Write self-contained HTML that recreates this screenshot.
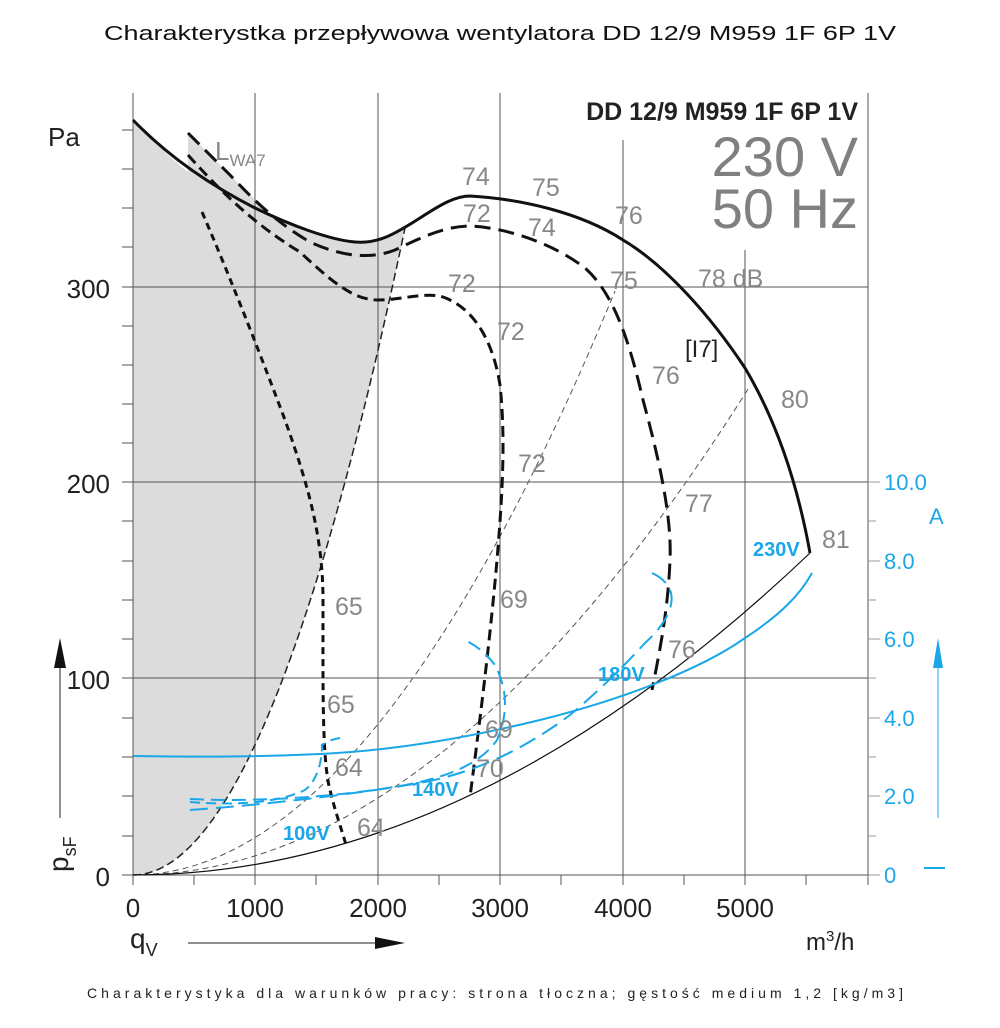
<!DOCTYPE html>
<html><head><meta charset="utf-8"><style>
html,body{margin:0;padding:0;background:#fff}
svg{display:block}
text{font-family:"Liberation Sans",sans-serif}
</style></head><body>
<svg width="1000" height="1028" viewBox="0 0 1000 1028" xmlns="http://www.w3.org/2000/svg">
<rect width="1000" height="1028" fill="#fff"/>
<text x="500" y="40" font-size="20" text-anchor="middle" fill="#111" textLength="792" lengthAdjust="spacingAndGlyphs">Charakterystka przepływowa wentylatora DD 12/9 M959 1F 6P 1V</text>

<path d="M133,875 L133,120 C150,138 170,158 188,172 L188,133 L230,175 L272,216 C300,228 330,240 350,241 C365,242 378,240 390,236 L405,228 Q269,875 133,875 Z" fill="#dcdcdc"/>

<g stroke="#555" stroke-width="1" fill="none">
<line x1="255" y1="93" x2="255" y2="875"/>
<line x1="378" y1="93" x2="378" y2="875"/>
<line x1="500" y1="93" x2="500" y2="875"/>
<line x1="623" y1="140" x2="623" y2="875"/>
<line x1="745" y1="250" x2="745" y2="875"/>
<line x1="868" y1="93" x2="868" y2="885"/>
<line x1="122" y1="287" x2="868" y2="287"/>
<line x1="122" y1="482" x2="868" y2="482"/>
<line x1="122" y1="678" x2="868" y2="678"/>
<line x1="133" y1="93" x2="133" y2="885"/>
<line x1="122" y1="875" x2="868" y2="875"/>
</g>
<g stroke="#555" stroke-width="1">
<line x1="122" y1="130" x2="133" y2="130"/><line x1="122" y1="169" x2="133" y2="169"/><line x1="122" y1="208" x2="133" y2="208"/><line x1="122" y1="247" x2="133" y2="247"/>
<line x1="122" y1="326" x2="133" y2="326"/><line x1="122" y1="365" x2="133" y2="365"/><line x1="122" y1="404" x2="133" y2="404"/><line x1="122" y1="443" x2="133" y2="443"/>
<line x1="122" y1="521" x2="133" y2="521"/><line x1="122" y1="561" x2="133" y2="561"/><line x1="122" y1="600" x2="133" y2="600"/><line x1="122" y1="639" x2="133" y2="639"/>
<line x1="122" y1="718" x2="133" y2="718"/><line x1="122" y1="757" x2="133" y2="757"/><line x1="122" y1="796" x2="133" y2="796"/><line x1="122" y1="836" x2="133" y2="836"/>
<line x1="194" y1="875" x2="194" y2="885"/><line x1="316" y1="875" x2="316" y2="885"/><line x1="439" y1="875" x2="439" y2="885"/><line x1="561" y1="875" x2="561" y2="885"/><line x1="684" y1="875" x2="684" y2="885"/><line x1="806" y1="875" x2="806" y2="885"/>
<line x1="255" y1="875" x2="255" y2="885"/><line x1="378" y1="875" x2="378" y2="885"/><line x1="500" y1="875" x2="500" y2="885"/><line x1="623" y1="875" x2="623" y2="885"/><line x1="745" y1="875" x2="745" y2="885"/>
</g>
<g stroke="#999" stroke-width="1">
<line x1="868" y1="875" x2="880" y2="875"/><line x1="868" y1="836" x2="876" y2="836"/><line x1="868" y1="796" x2="880" y2="796"/><line x1="868" y1="757" x2="876" y2="757"/>
<line x1="868" y1="718" x2="880" y2="718"/><line x1="868" y1="678" x2="876" y2="678"/><line x1="868" y1="639" x2="880" y2="639"/><line x1="868" y1="600" x2="876" y2="600"/>
<line x1="868" y1="561" x2="880" y2="561"/><line x1="868" y1="521" x2="876" y2="521"/><line x1="868" y1="482" x2="880" y2="482"/>
</g>

<g fill="none" stroke="#555" stroke-width="1" stroke-dasharray="6,4">
<path d="M133,875 Q374,875 615,291"/>
<path d="M133,875 Q441.5,875 750,386"/>
</g>
<path d="M133,875 Q269,875 405,228" fill="none" stroke="#222" stroke-width="1.5" stroke-dasharray="8,4"/>
<path d="M133,875 Q471.5,875 810,553" fill="none" stroke="#111" stroke-width="1.2"/>

<path d="M133,120 C160,148 200,180 255,208 C290,225 330,240 355,242 C378,244 395,234 420,218 C440,205 455,196 470,196 C520,199 580,212 623,240 C665,265 710,315 745,368 C770,410 795,470 810,553" fill="none" stroke="#111" stroke-width="3"/>

<path d="M188,133 L230,175 C250,196 275,222 310,242 C340,256 370,260 395,250 C420,238 445,226 470,226 C510,228 555,245 585,268 C612,292 628,335 643,400 C658,455 672,515 670,560 C668,610 660,650 652,690" fill="none" stroke="#111" stroke-width="3" stroke-dasharray="16,8"/>
<path d="M188,155 C215,185 250,222 300,252 C335,285 355,300 378,300 C400,300 420,293 440,296 C470,305 492,335 500,385 C506,440 502,500 497,560 C490,640 480,720 470,797" fill="none" stroke="#111" stroke-width="3" stroke-dasharray="11,6"/>
<path d="M202,212 C225,265 255,340 285,420 C310,490 323,540 323,600 C323,690 322,760 330,790 C336,815 342,830 346,845" fill="none" stroke="#111" stroke-width="3" stroke-dasharray="7,5"/>

<g fill="none" stroke="#1aa7e8" stroke-width="2">
<path d="M133,756 C200,757 255,757 320,754 C400,750 470,737 540,720 C620,700 700,670 745,638 C780,615 800,595 812,573"/>
<path d="M190,810 C260,805 350,795 420,783 C480,772 530,745 570,715 C600,690 625,665 645,643 C665,625 676,605 670,590 C665,580 660,577 652,573" stroke-dasharray="18,8"/>
<path d="M190,799 C250,802 330,798 400,786 C445,778 480,765 497,740 C508,715 508,690 495,665 C485,652 475,645 465,640" stroke-dasharray="14,7"/>
<path d="M190,802 C240,806 280,802 305,790 C318,780 322,760 322,745 C328,741 333,739 340,738" stroke-dasharray="10,6"/>
</g>

<g font-size="25" fill="#888">
<text x="462" y="185">74</text><text x="532" y="196">75</text><text x="463" y="222">72</text><text x="528" y="236">74</text>
<text x="615" y="224">76</text><text x="448" y="292">72</text><text x="610" y="289">75</text><text x="698" y="287">78 dB</text>
<text x="497" y="340">72</text><text x="652" y="384">76</text><text x="781" y="408">80</text><text x="518" y="472">72</text>
<text x="685" y="512">77</text><text x="822" y="548">81</text><text x="335" y="615">65</text><text x="500" y="608">69</text>
<text x="668" y="658">76</text><text x="327" y="713">65</text><text x="485" y="738">69</text><text x="335" y="776">64</text>
<text x="476" y="777">70</text><text x="357" y="836">64</text>
<text x="215" y="160" font-size="26">L<tspan font-size="17" dy="6">WA7</tspan></text>
</g>
<text x="685" y="357" font-size="24" fill="#222">[I7]</text>
<text x="858" y="120" font-size="25" font-weight="bold" fill="#222" text-anchor="end">DD 12/9 M959 1F 6P 1V</text>
<text x="858" y="176" font-size="56" fill="#808080" text-anchor="end">230 V</text>
<text x="858" y="228" font-size="56" fill="#808080" text-anchor="end">50 Hz</text>

<g font-size="20" font-weight="bold" fill="#1aa7e8">
<text x="753" y="556">230V</text><text x="598" y="681">180V</text><text x="412" y="796">140V</text><text x="283" y="840">100V</text>
</g>

<g font-size="26" fill="#222" text-anchor="end">
<text x="110" y="298">300</text><text x="110" y="493">200</text><text x="110" y="689">100</text><text x="110" y="886">0</text>
</g>
<text x="48" y="146" font-size="26" fill="#222">Pa</text>
<g font-size="26" fill="#222" text-anchor="middle">
<text x="133" y="917">0</text><text x="255" y="917">1000</text><text x="378" y="917">2000</text><text x="500" y="917">3000</text><text x="623" y="917">4000</text><text x="745" y="917">5000</text>
</g>
<text x="806" y="950" font-size="24" fill="#222">m<tspan font-size="15" dy="-9">3</tspan><tspan dy="9">/h</tspan></text>
<text x="130" y="948" font-size="28" fill="#222">q<tspan font-size="18" dy="8">V</tspan></text>
<line x1="188" y1="943" x2="380" y2="943" stroke="#222" stroke-width="1"/>
<polygon points="375,937 405,943 375,949" fill="#111"/>

<line x1="60" y1="818" x2="60" y2="665" stroke="#222" stroke-width="1"/>
<polygon points="54,668 60,638 66,668" fill="#111"/>
<text transform="translate(68,872) rotate(-90)" font-size="28" fill="#222">p<tspan font-size="18" dy="8">sF</tspan></text>

<g font-size="22" fill="#1aa7e8">
<text x="884" y="490">10.0</text><text x="884" y="569">8.0</text><text x="884" y="647">6.0</text><text x="884" y="726">4.0</text><text x="884" y="804">2.0</text><text x="884" y="883">0</text>
<text x="929" y="524">A</text>
</g>
<line x1="938" y1="818" x2="938" y2="665" stroke="#1aa7e8" stroke-width="1"/>
<polygon points="933,668 938,638 943,668" fill="#1aa7e8"/>
<line x1="924" y1="868" x2="945" y2="868" stroke="#1aa7e8" stroke-width="2"/>

<text x="495" y="998" font-size="14" fill="#222" text-anchor="middle" textLength="816" lengthAdjust="spacing">Charakterystyka dla warunków pracy: strona tłoczna; gęstość medium 1,2 [kg/m3]</text>
</svg>
</body></html>
